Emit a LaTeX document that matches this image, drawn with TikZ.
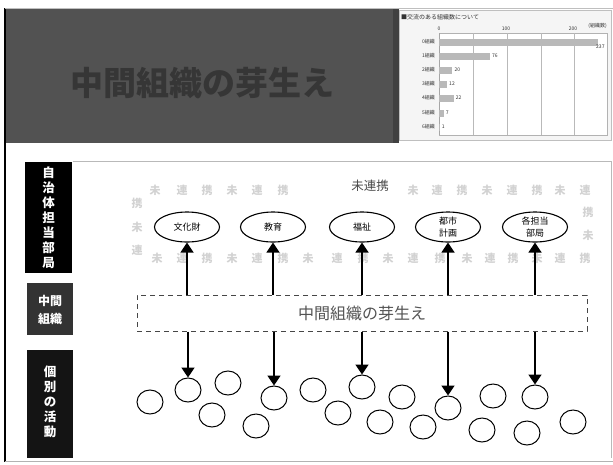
\documentclass[tikz,border=0pt]{standalone}
\usepackage{fontspec}
\usetikzlibrary{shapes.geometric,arrows.meta}
\newfontfamily\jp{Noto Sans CJK JP}
\definecolor{bannerbg}{HTML}{525252}
\definecolor{bannertx}{HTML}{363636}
\definecolor{midbox}{HTML}{333333}
\definecolor{faint}{HTML}{D2D2D2}
\begin{document}
\begin{tikzpicture}[x=1pt,y=-1pt,
  every node/.style={font=\jp, inner sep=0pt},
  dept/.style={draw, ellipse, line width=1.1pt, minimum width=65pt, minimum height=30pt, fill=white, font=\jp\fontsize{9}{10}\selectfont, align=center},
  indiv/.style={draw, ellipse, line width=1pt, minimum width=26pt, minimum height=24pt, fill=white},
  arr/.style={line width=1.6pt, -{Triangle[length=10pt,width=13pt]}},
  sidebox/.style={text=white, font=\jp\bfseries\fontsize{12.5}{15}\selectfont, align=center},
  ghost/.style={text=faint, font=\jp\bfseries\fontsize{11}{11}\selectfont},
  tiny/.style={font=\jp\fontsize{5}{5}\selectfont, text=gray!40!black}
]
\useasboundingbox (0,0) rectangle (613,464);
\fill[white] (0,0) rectangle (613,464);
% frame
\draw[black, line width=1.2pt] (5,8) -- (5,462);
\draw[gray!60, line width=1pt] (5,461) -- (613,461);
\draw[gray!50, line width=0.8pt] (5,8) -- (613,8);
% banner
\fill[bannerbg] (6,9) rectangle (393,143);
\node[text=bannertx, font=\jp\bfseries\fontsize{33}{33}\selectfont] (title) at (202,83) {中間組織の芽生え};
% chart
\fill[black!75] (393,9) rectangle (399,143);
\fill[gray!8] (399,10) rectangle (611,140);
\draw[gray!50] (399,10) rectangle (611,140);
\node[anchor=west, font=\jp\fontsize{6}{6}\selectfont, text=gray!40!black] (ctitle) at (401,17) {■交流のある組織数について};
\node[anchor=east, tiny] (cunit) at (607,26) {(組織数)};
\fill[white] (439,33) rectangle (607,135);
\draw[gray!60] (439,33) rectangle (607,135);
\foreach \gx in {473,507,541,574} \draw[gray!55, line width=0.8pt] (\gx,33) -- (\gx,135);
\draw[gray!70, line width=0.8pt] (439,33) -- (439,135);
\node[tiny] (ax0) at (439,29) {0};
\node[tiny] (ax1) at (506,29) {100};
\node[tiny] (ax2) at (573,29) {200};
\foreach \yy/\v/\c [count=\i] in {42/237/0, 56/76/1, 70/20/2, 84/12/3, 98/22/4, 113/7/5, 127/1/6} {
  \fill[gray!55] (439,\yy-3.5) rectangle ({439+\v*0.67},\yy+3.5);
  \node[tiny, anchor=east] (cat\i) at (435,\yy) {\c 組織};
}
\node[tiny, anchor=west] (v1) at (596,47) {237};
\foreach \yy/\v [count=\i from 2] in {56/76, 70/20, 84/12, 98/22, 113/7, 127/1}
  \node[tiny, anchor=west] (v\i) at ({441+\v*0.67},\yy) {\v};
% lower panel
\draw[gray!55, line width=0.8pt] (73,161) -- (611,161) -- (611,458);
\fill[black] (25,162) rectangle (72,273);
\node[sidebox] (lab1) at (48.5,217.5) {自\\治\\体\\担\\当\\部\\局};
\fill[midbox] (27,283) rectangle (73,335);
\node[sidebox, font=\jp\bfseries\fontsize{12}{18}\selectfont] (lab2) at (50,310) {中間\\組織};
\fill[black!92] (27,350) rectangle (73,458);
\node[sidebox] (lab3) at (50,402) {個\\別\\の\\活\\動};
% ghost glyphs
\foreach \gx/\gc [count=\i] in {155/未,182/連,207/携,232/未,257/連,283/携,413/未,437/連,462/携,487/未,512/連,537/携,560/未,585/連}
  \node[ghost] (gt\i) at (\gx,190) {\gc};
\foreach \gy/\gc [count=\i] in {203/携,227/未,250/連}
  \node[ghost] (gl\i) at (137,\gy) {\gc};
\foreach \gy/\gc [count=\i] in {212/携,235/未}
  \node[ghost] (gr\i) at (588,\gy) {\gc};
\foreach \gx/\gc [count=\i] in {157/未,182/連,207/携,232/未,257/連,283/携,308/未,337/連,363/携,388/未,413/連,440/携,467/未,490/連,513/携,537/未,560/連,585/携}
  \node[ghost] (gb\i) at (\gx,258) {\gc};
\node[text=gray!60!black, font=\jp\fontsize{12.5}{13}\selectfont] (unlinked) at (370,186) {未連携};
% department ellipses
\node[dept] (e1) at (187,227) {文化財};
\node[dept] (e2) at (273,227) {教育};
\node[dept] (e3) at (362,227) {福祉};
\node[dept, font=\jp\fontsize{9}{12}\selectfont] (e4) at (448,227) {都市\\計画};
\node[dept, font=\jp\fontsize{9}{12}\selectfont] (e5) at (535,227) {各担当\\部局};
% middle dashed box
\node[draw=gray!55!black, dashed, dash pattern=on 5pt off 4pt, line width=1pt, minimum width=450pt, minimum height=36pt, text=gray!65!black, font=\jp\fontsize{16}{16}\selectfont] (mid) at (362,313) {中間組織の芽生え};
% individual circles
\foreach \cx/\cy [count=\i] in {150/402, 188/390, 228/383, 212/415, 274/398, 256/426, 313/390, 362/387, 338/413, 402/397, 380/422, 423/427, 448/408, 493/396, 482/430, 535/397, 527/433, 573/422}
  \node[indiv] (c\i) at (\cx,\cy) {};
% arrows up
\foreach \e in {e1,e2,e3,e4,e5}
  \draw[arr] (mid.north -| \e.south) -- (\e.south);
% arrows down
\foreach \c in {c2,c5,c8,c13,c16}
  \draw[arr] (mid.south -| \c.north) -- (\c.north);
\end{tikzpicture}
\end{document}
